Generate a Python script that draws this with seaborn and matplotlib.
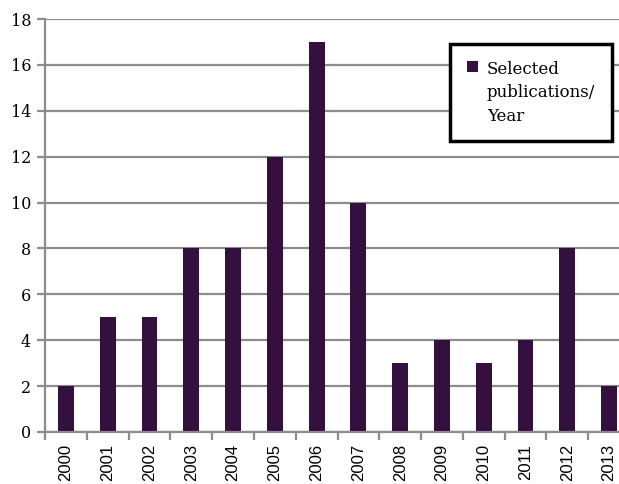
import numpy as np
import pandas as pd
import matplotlib
matplotlib.use("Agg")
import matplotlib.pyplot as plt
import seaborn as sns

years = ["2000", "2001", "2002", "2003", "2004", "2005", "2006",
         "2007", "2008", "2009", "2010", "2011", "2012", "2013"]
counts = [2, 5, 5, 8, 8, 12, 17, 10, 3, 4, 3, 4, 8, 2]
label = "Selected\npublications/\nYear"

data = pd.DataFrame({"year": years, "count": counts})

sns.set_style("white")
bar_color = "#34103f"
grid_color = "#8c8c8c"

fig = plt.figure(figsize=(6.19, 4.84), dpi=100)
ax = fig.add_axes([45 / 619, 52 / 484, 585 / 619, 413 / 484])

sns.barplot(data=data, x="year", y="count", color=bar_color, width=0.38,
            saturation=1, linewidth=0, edgecolor="none", ax=ax, label=label)

ax.set_ylim(0, 18)
ax.set_xlim(-0.5, len(years) - 0.5)
ax.set_yticks(range(0, 19, 2))
ax.yaxis.grid(True, color=grid_color, linewidth=1.6)
ax.set_axisbelow(True)

for s in ["top", "right"]:
    ax.spines[s].set_visible(False)
for s in ["left", "bottom"]:
    ax.spines[s].set_color(grid_color)
    ax.spines[s].set_linewidth(1.6)

ax.set_xlabel("")
ax.set_ylabel("")

# x ticks sit between categories
ax.set_xticks(np.arange(len(years)), labels=years, rotation=90,
              fontsize=12, family="Liberation Sans", color="black")
ax.set_xticks(np.arange(len(years) + 1) - 0.5, minor=True)
ax.tick_params(axis="x", which="major", length=0, pad=8.5)
ax.tick_params(axis="x", which="minor", length=6, width=1.6, color=grid_color,
               direction="out", bottom=True)
ax.tick_params(axis="y", length=6, width=1.6, color=grid_color,
               direction="out", left=True, labelsize=11.5, pad=4,
               labelcolor="black")
for t in ax.get_yticklabels():
    t.set_family("DejaVu Serif")

leg = ax.legend(loc="upper left", bbox_to_anchor=(405 / 585, 388 / 413),
                borderaxespad=0, frameon=True, fancybox=False, framealpha=1,
                handlelength=0.65, handleheight=0.65, handletextpad=0.55,
                borderpad=1.0, labelcolor="black",
                prop={"family": "DejaVu Serif", "size": 12})
leg.get_frame().set_edgecolor("black")
leg.get_frame().set_linewidth(2.5)
for txt in leg.get_texts():
    txt.set_linespacing(1.5)
# put the marker next to the first line of the label
for col in leg._legend_handle_box.get_children():
    for item in col.get_children():
        item.align = "top"

fig.savefig("out.png", dpi=100)
